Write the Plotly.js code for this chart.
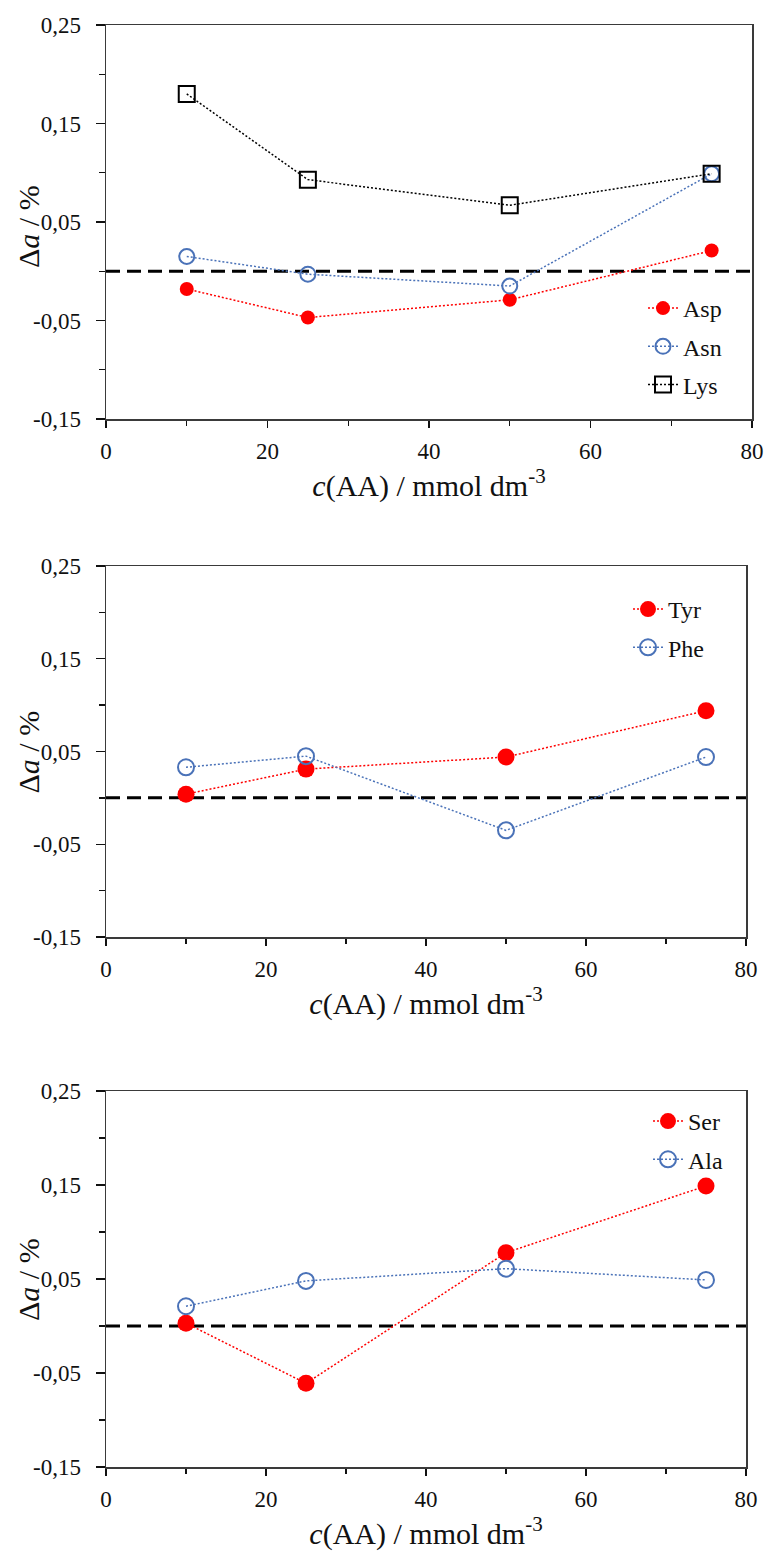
<!DOCTYPE html>
<html>
<head>
<meta charset="utf-8">
<script src="https://cdn.plot.ly/plotly-3.0.1.min.js"></script>
<style>html,body{margin:0;padding:0;background:#fff;}#chart{width:767px;height:1551px;}</style>
</head>
<body>
<div id="chart"></div>
<script>
// ---- data ----
const conc = [10, 25, 50, 75];
const asp = [-0.018, -0.047, -0.029, 0.021];
const asn = [0.015, -0.003, -0.015, 0.099];
const lys = [0.180, 0.093, 0.067, 0.099];
const tyr = [0.004, 0.031, 0.044, 0.094];
const phe = [0.033, 0.045, -0.035, 0.044];
const ser = [0.003, -0.061, 0.078, 0.149];
const ala = [0.021, 0.048, 0.061, 0.049];
const yTickVals = [-0.15, -0.05, 0.05, 0.15, 0.25];
const yTickText = ['-0,15', '-0,05', '0,05', '0,15', '0,25'];
const xTickVals = [0, 20, 40, 60, 80];
const xTickText = ['0', '20', '40', '60', '80'];
const xTitle = '<i>c</i>(AA) / mmol dm<sup>-3</sup>';
const yTitle = 'Δ<i>a</i> / %';

const FONT = '"Liberation Serif", "Times New Roman", serif';
const RED = '#ff0000';
const BLUE = '#4a72b8';
const AXC = '#3a3a3a';

function filled(name, y, xa, ya, leg, size) {
  return {x: conc, y: y, name: name, type: 'scatter', mode: 'lines+markers', xaxis: xa, yaxis: ya,
    legend: leg, legendgroup: name,
    line: {color: RED, width: 1.5, dash: '2px,2px'},
    marker: {symbol: 'circle', size: size, color: RED, line: {width: 0}}};
}
function openCircle(name, y, xa, ya, leg, size) {
  return {x: conc, y: y, name: name, type: 'scatter', mode: 'lines+markers', xaxis: xa, yaxis: ya,
    legend: leg, legendgroup: name,
    line: {color: BLUE, width: 1.5, dash: '2px,2px'},
    marker: {symbol: 'circle-open', size: size, color: BLUE, line: {width: 2, color: BLUE}}};
}
function openSquare(name, y, xa, ya, leg, size) {
  return {x: conc, y: y, name: name, type: 'scatter', mode: 'lines+markers', xaxis: xa, yaxis: ya,
    legend: leg, legendgroup: name,
    line: {color: '#000', width: 1.5, dash: '2px,2px'},
    marker: {symbol: 'square-open', size: size, color: '#000', line: {width: 2, color: '#000'}}};
}

const traces = [
  filled('Asp', asp, 'x', 'y', 'legend', 14),
  openCircle('Asn', asn, 'x', 'y', 'legend', 15),
  openSquare('Lys', lys, 'x', 'y', 'legend', 16),
  filled('Tyr', tyr, 'x2', 'y2', 'legend2', 17),
  openCircle('Phe', phe, 'x2', 'y2', 'legend2', 16),
  filled('Ser', ser, 'x3', 'y3', 'legend3', 17),
  openCircle('Ala', ala, 'x3', 'y3', 'legend3', 16)
];

const H = 1551, W = 767;
const panels = [
  {x0: 106, x1: 752, top: 25, bot: 419, tstand: 5},
  {x0: 106, x1: 746, top: 566, bot: 937, tstand: 10},
  {x0: 106, x1: 746, top: 1091, bot: 1467, tstand: 5}
];

function xAxis(p, anchor) {
  return {
    domain: [p.x0 / W, p.x1 / W], anchor: anchor, range: [0, 80],
    tickmode: 'array', tickvals: xTickVals, ticktext: xTickText,
    ticks: 'outside', ticklen: 7, tickwidth: 1.3, tickcolor: '#111',
    minor: {dtick: 10, tick0: 0, ticks: 'outside', ticklen: 5, tickwidth: 1.3, tickcolor: '#111'},
    showline: true, linecolor: AXC, linewidth: 1.5, mirror: true,
    showgrid: false, zeroline: false,
    tickfont: {family: FONT, size: 23, color: '#111'},
    ticklabelstandoff: 4,
    title: {text: xTitle, font: {family: FONT, size: 30, color: '#111'}, standoff: p.tstand}
  };
}
function xOver(p, over, anchor) {
  return {
    domain: [p.x0 / W, p.x1 / W], anchor: anchor, overlaying: over, range: [0, 80],
    tickmode: 'array', tickvals: [20, 40, 60], ticks: 'inside', ticklen: 7, tickwidth: 1.3, tickcolor: '#111',
    showticklabels: false, showline: false, showgrid: false, zeroline: false
  };
}
function yAxis(p, anchor) {
  return {
    domain: [1 - p.bot / H, 1 - p.top / H], anchor: anchor, range: [-0.15, 0.25],
    tickmode: 'array', tickvals: yTickVals, ticktext: yTickText,
    ticks: 'outside', ticklen: 9, tickwidth: 1.3, tickcolor: '#111',
    minor: {dtick: 0.1, tick0: 0, ticks: 'outside', ticklen: 6, tickwidth: 1.3, tickcolor: '#111'},
    showline: true, linecolor: AXC, linewidth: 1.5, mirror: true,
    showgrid: false, zeroline: false,
    tickfont: {family: FONT, size: 23, color: '#111'},
    ticklabelstandoff: 10
  };
}

function zeroLine(xref, yref) {
  return {type: 'line', xref: xref + ' domain', yref: yref, x0: 0, x1: 1, y0: 0, y1: 0,
    line: {color: '#000', width: 3, dash: '14px,7px'}, layer: 'below'};
}

function yTitleAnn(p, dy) {
  return {text: yTitle, textangle: -90, xref: 'paper', yref: 'paper',
    x: 28 / W, y: 1 - ((p.top + p.bot) / 2 + dy) / H, xanchor: 'center', yanchor: 'middle',
    showarrow: false, font: {family: FONT, size: 30, color: '#111'}};
}

function legendCfg(xpx, ytop) {
  return {x: xpx / W, xanchor: 'left', y: 1 - ytop / H, yanchor: 'top',
    bgcolor: 'rgba(0,0,0,0)', borderwidth: 0,
    font: {family: FONT, size: 24, color: '#111'},
    traceorder: 'grouped', tracegroupgap: 4, itemwidth: 30};
}

const layout = {
  width: W, height: H,
  margin: {l: 0, r: 0, t: 0, b: 0},
  paper_bgcolor: '#fff', plot_bgcolor: '#fff',
  showlegend: true,
  separators: ', ',
  xaxis: xAxis(panels[0], 'y'),
  yaxis: yAxis(panels[0], 'x'),
  xaxis2: xAxis(panels[1], 'y2'),
  yaxis2: yAxis(panels[1], 'x2'),
  xaxis3: xAxis(panels[2], 'y3'),
  yaxis3: yAxis(panels[2], 'x3'),
  xaxis4: xOver(panels[0], 'x', 'y'),
  xaxis5: xOver(panels[1], 'x2', 'y2'),
  xaxis6: xOver(panels[2], 'x3', 'y3'),
  legend: legendCfg(643, 286),
  legend2: legendCfg(628, 587),
  legend3: legendCfg(648, 1099),
  shapes: [zeroLine('x', 'y'), zeroLine('x2', 'y2'), zeroLine('x3', 'y3')],
  annotations: [yTitleAnn(panels[0], 4), yTitleAnn(panels[1], 0), yTitleAnn(panels[2], 0)]
};

Plotly.newPlot('chart', traces, layout, {displayModeBar: false, staticPlot: true});
</script>
</body>
</html>
